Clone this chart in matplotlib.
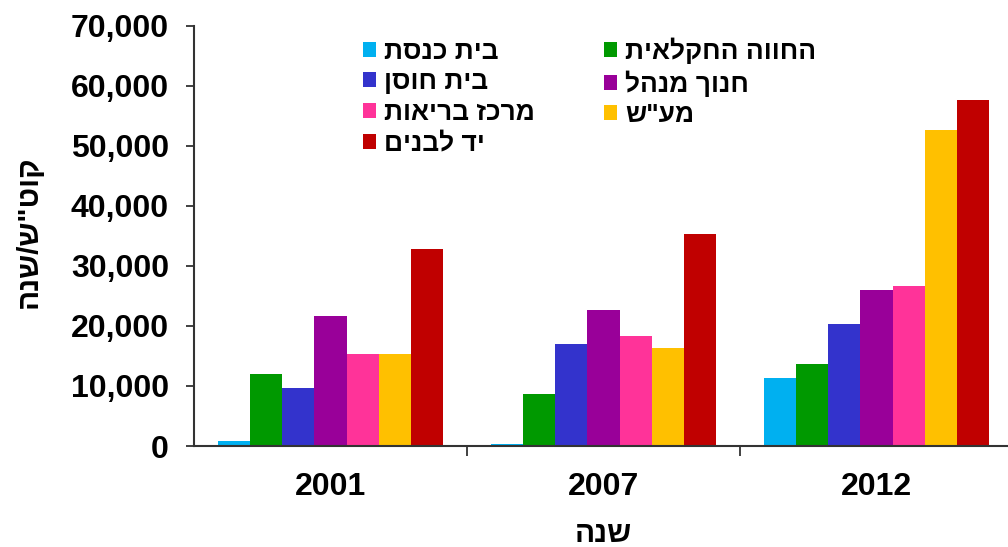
import matplotlib
matplotlib.use("Agg")
import matplotlib.pyplot as plt
import numpy as np
from matplotlib.ticker import FuncFormatter
from matplotlib.patches import Patch

# data (kWh per year)
years = ["2001", "2007", "2012"]
series_names = ["בית כנסת", "החווה החקלאית", "בית חוסן", "חנוך מנהל",
                "מרכז בריאות", 'מע"ש', "יד לבנים"]
beit_knesset = [800, 400, 11300]
hachava = [12000, 8700, 13700]
beit_hosen = [9700, 17000, 20300]
hinuch_minhal = [21700, 22700, 26000]
merkaz_briut = [15400, 18400, 26700]
maash = [15400, 16400, 52700]
yad_labanim = [32800, 35400, 57700]
y_ticks = [0, 10000, 20000, 30000, 40000, 50000, 60000, 70000]

colors = ["#00B0F0", "#009900", "#3333CC", "#990099",
          "#FF3399", "#FFC000", "#C00000"]
values = [beit_knesset, hachava, beit_hosen, hinuch_minhal,
          merkaz_briut, maash, yad_labanim]


def heb(s):
    # matplotlib has no bidi support, so flip Hebrew into visual order
    return s[::-1]


plt.rcParams["font.family"] = ["Liberation Sans", "DejaVu Sans"]
plt.rcParams["font.weight"] = "bold"

fig = plt.figure(figsize=(10.08, 5.47), dpi=100)
W, H = 1008, 547
ax = fig.add_axes([194 / W, 101 / H, 819 / W, 420 / H])

x = np.arange(len(years))
w = 1 / 8.5
for i, (vals, c) in enumerate(zip(values, colors)):
    ax.bar(x + (i - 3) * w, vals, width=w, color=c, edgecolor="none")

ax.set_xlim(-0.5, 2.5)
ax.set_ylim(0, 70000)
ax.set_yticks(y_ticks)
ax.yaxis.set_major_formatter(FuncFormatter(lambda v, p: f"{int(v):,}"))
ax.tick_params(axis="y", direction="out", length=6, width=1.3,
               labelsize=23, pad=12, color="#333333")

# category ticks on group borders, labels centred under groups
ax.set_xticks([0.5, 1.5])
ax.set_xticklabels([])
ax.set_xticks(x, minor=True)
ax.set_xticklabels(years, minor=True, fontsize=23, fontweight="bold")
ax.tick_params(axis="x", which="major", direction="out", length=7,
               width=1.3, color="#333333")
ax.tick_params(axis="x", which="minor", length=0, pad=19)

for side in ["top", "right"]:
    ax.spines[side].set_visible(False)
for side in ["left", "bottom"]:
    ax.spines[side].set_linewidth(1.5)
    ax.spines[side].set_color("#333333")

fig.text(603 / W, 1 - 534 / H, heb("שנה"), fontsize=21.5,
         fontweight="bold", ha="center", va="center")
fig.text(29 / W, 1 - 232 / H, heb('קוט"ש/שנה'), fontsize=21.5,
         fontweight="bold", ha="center", va="center", rotation=90)

# legend fills row by row in the reference
handles = [Patch(facecolor=c, edgecolor="none") for c in colors]
order = [0, 2, 4, 6, 1, 3, 5]
ax.legend([handles[k] for k in order],
          [heb(series_names[k]) for k in order],
          ncol=2, frameon=False, loc="upper left",
          bbox_to_anchor=(350 / W, 1 - 24 / H),
          bbox_transform=fig.transFigure,
          prop={"size": 19, "weight": "bold"},
          handlelength=0.5, handleheight=0.5, handletextpad=0.3,
          labelspacing=0.25, columnspacing=2.6, borderpad=0)

fig.savefig("out.png", dpi=100)
